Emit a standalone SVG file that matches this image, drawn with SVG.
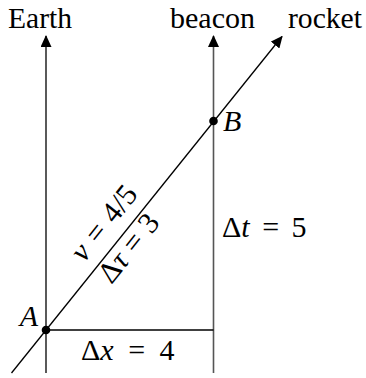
<svg xmlns="http://www.w3.org/2000/svg" width="366" height="378" viewBox="0 0 366 378">
<style>
text{font-family:"Liberation Serif","DejaVu Serif",serif;fill:#000}
.lbl{font-size:30px}
.m{font-size:30px}
.i{font-style:italic}
.ax{stroke:#000;stroke-width:1.3;fill:none}
</style>
<defs>
<marker id="ah" markerWidth="12" markerHeight="11" refX="11" refY="5.5" orient="auto" markerUnits="userSpaceOnUse">
<path d="M0,0 L12,5.5 L0,11 Z" fill="#000"/>
</marker>
</defs>
<rect width="366" height="378" fill="#fff"/>
<g id="connectors">
<line class="ax" x1="46" y1="373" x2="46" y2="36" marker-end="url(#ah)"/>
<line x1="213.5" y1="373" x2="213.5" y2="36" stroke="#555" stroke-width="1.6" marker-end="url(#ah)"/>
<line class="ax" x1="11.5" y1="373" x2="282" y2="36.5" marker-end="url(#ah)"/>
<line class="ax" x1="46" y1="330" x2="213.5" y2="330"/>
</g>
<g id="earth"><text class="lbl" x="8" y="28" textLength="64" lengthAdjust="spacingAndGlyphs">Earth</text></g>
<g id="beacon"><text class="lbl" x="170" y="28" textLength="85" lengthAdjust="spacingAndGlyphs">beacon</text></g>
<g id="rocket"><text class="lbl" x="288" y="28" textLength="74" lengthAdjust="spacingAndGlyphs">rocket</text></g>
<g id="A"><circle cx="46" cy="330" r="4.3"/><text class="m i" x="38" y="326" text-anchor="end">A</text></g>
<g id="B"><circle cx="213.5" cy="121" r="4.3"/><text class="m i" x="223" y="131">B</text></g>
<g id="dx"><text class="m" x="81" y="360">Δ<tspan class="i">x</tspan><tspan dx="7"> = </tspan><tspan dx="7">4</tspan></text></g>
<g id="dt"><text class="m" x="222" y="237">Δ<tspan class="i">t</tspan><tspan dx="5"> = </tspan><tspan dx="5">5</tspan></text></g>
<g id="v" transform="translate(46,330) rotate(-51.34)"><text class="m" x="76" y="-12"><tspan class="i">v</tspan><tspan dx="2"> = </tspan><tspan dx="2">4/5</tspan></text></g>
<g id="dtau" transform="translate(46,330) rotate(-51.34)"><text class="m" x="76" y="23">Δ<tspan class="i">τ</tspan><tspan dx="1"> = </tspan><tspan dx="1">3</tspan></text></g>
</svg>
